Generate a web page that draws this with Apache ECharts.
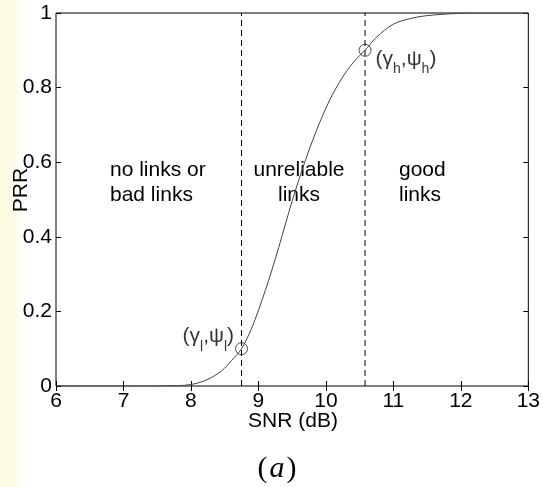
<!DOCTYPE html>
<html>
<head>
<meta charset="utf-8">
<script src="https://cdn.jsdelivr.net/npm/echarts@6/dist/echarts.min.js"></script>
<style>
  html, body { margin: 0; padding: 0; background: #fff; }
  #chart { width: 543px; height: 487px; }
</style>
</head>
<body>
<div id="chart"></div>
<script>
// PRR vs. SNR transition curve
const snr = [6, 7, 7.5, 7.8, 8, 8.2, 8.4, 8.5, 8.6, 8.75, 8.9, 9, 9.1, 9.2, 9.3, 9.4, 9.5, 9.6, 9.7, 9.8,
             9.9, 10, 10.1, 10.2, 10.3, 10.4, 10.5, 10.58, 10.75, 11, 11.25, 11.5, 12, 12.5, 13];
const prr = [0, 0, 0, 0.001, 0.004, 0.014, 0.033, 0.048, 0.068, 0.10, 0.155, 0.203, 0.255, 0.311, 0.371, 0.434, 0.496, 0.553, 0.607, 0.657,
             0.703, 0.745, 0.782, 0.814, 0.842, 0.866, 0.886, 0.90, 0.935, 0.97, 0.985, 0.993, 0.999, 1, 1];

// thresholds (gamma, psi)
const lowPoint = [8.75, 0.1];
const highPoint = [10.58, 0.9];

// axis ticks
const xTicks = [6, 7, 8, 9, 10, 11, 12, 13];
const yTicks = [0, 0.2, 0.4, 0.6, 0.8, 1];

// region captions
const regionLeft = ['no links or', 'bad links'];
const regionMid = ['unreliable', 'links'];
const regionRight = ['good', 'links'];

const FONT = '"Liberation Sans", Arial, Helvetica, sans-serif';
const FS = 21;
const tickStep = (a) => a[1] - a[0];

const chart = echarts.init(document.getElementById('chart'), null, { renderer: 'canvas' });

const subRich = {
  b: { fontSize: FS, fontFamily: FONT, color: '#000', verticalAlign: 'top', lineHeight: 22 },
  s: { fontSize: 14, fontFamily: FONT, color: '#000', verticalAlign: 'top', lineHeight: 14, padding: [14, 0, 0, 0] }
};

const axisCommonX = {
  type: 'value',
  min: xTicks[0],
  max: xTicks[xTicks.length - 1],
  interval: tickStep(xTicks),
  axisLine: { show: false },
  splitLine: { show: false },
  axisTick: { inside: true, length: 5, lineStyle: { color: '#000', width: 1 } }
};
const axisCommonY = {
  type: 'value',
  min: yTicks[0],
  max: yTicks[yTicks.length - 1],
  interval: tickStep(yTicks),
  axisLine: { show: false },
  splitLine: { show: false },
  axisTick: { inside: true, length: 5, lineStyle: { color: '#000', width: 1 } }
};

const option = {
  animation: false,
  backgroundColor: '#fff',
  grid: {
    left: 56, right: 12, top: 13, bottom: 101,
    show: true, borderColor: '#000', borderWidth: 1, backgroundColor: 'transparent'
  },
  xAxis: [
    Object.assign({}, axisCommonX, {
      position: 'bottom',
      axisLabel: { margin: 5, fontSize: FS, fontFamily: FONT, color: '#000', formatter: (v) => String(v) }
    }),
    Object.assign({}, axisCommonX, { position: 'top', axisLabel: { show: false } })
  ],
  yAxis: [
    Object.assign({}, axisCommonY, {
      position: 'left',
      axisLabel: { margin: 4, fontSize: FS, fontFamily: FONT, color: '#000', formatter: (v) => String(+v.toFixed(1)) }
    }),
    Object.assign({}, axisCommonY, { position: 'right', axisLabel: { show: false } })
  ],
  series: [
    {
      type: 'line',
      data: [[lowPoint[0], yTicks[0]], [lowPoint[0], yTicks[yTicks.length - 1]]],
      symbol: 'none',
      lineStyle: { color: '#000', width: 1, type: [6, 4] },
      silent: true
    },
    {
      type: 'line',
      data: [[highPoint[0], yTicks[0]], [highPoint[0], yTicks[yTicks.length - 1]]],
      symbol: 'none',
      lineStyle: { color: '#000', width: 1, type: [6, 4] },
      silent: true
    },
    {
      type: 'line',
      data: snr.map((x, i) => [x, prr[i]]),
      symbol: 'none',
      smooth: 0.35,
      lineStyle: { color: '#444', width: 1 },
      silent: true
    },
    {
      type: 'scatter',
      symbol: 'circle',
      symbolSize: 12,
      itemStyle: { color: 'rgba(0,0,0,0)', borderColor: '#222', borderWidth: 1 },
      silent: true,
      data: [
        {
          value: lowPoint,
          label: {
            show: true, position: 'left', distance: 1, offset: [0, -12],
            formatter: '{b|(γ}{s|l}{b|,ψ}{s|l}{b|)}', rich: subRich
          }
        },
        {
          value: highPoint,
          label: {
            show: true, position: 'right', distance: 4, offset: [0, 9],
            formatter: '{b|(γ}{s|h}{b|,ψ}{s|h}{b|)}', rich: subRich
          }
        }
      ]
    }
  ],
  graphic: [
    {
      type: 'rect', left: 0, top: 0, z: -10,
      shape: { width: 20, height: 487 },
      style: {
        fill: new echarts.graphic.LinearGradient(0, 0, 1, 0, [
          { offset: 0, color: '#fcf9df' }, { offset: 0.8, color: '#fdfbe9' }, { offset: 1, color: '#ffffff' }
        ])
      },
      silent: true
    },
    {
      type: 'text', left: 110, top: 158, silent: true,
      style: { text: regionLeft.join('\n'), font: FS + 'px ' + FONT, fill: '#000', lineHeight: 25 }
    },
    {
      type: 'text', x: 299, y: 158, silent: true,
      style: { text: regionMid.join('\n'), font: FS + 'px ' + FONT, fill: '#000', lineHeight: 25, align: 'center' }
    },
    {
      type: 'text', left: 399, top: 158, silent: true,
      style: { text: regionRight.join('\n'), font: FS + 'px ' + FONT, fill: '#000', lineHeight: 25 }
    },
    {
      type: 'text', x: 21, y: 190, rotation: Math.PI / 2, silent: true,
      style: { text: 'PRR', font: FS + 'px ' + FONT, fill: '#000', align: 'center', verticalAlign: 'middle' }
    },
    {
      type: 'text', x: 293, y: 421, silent: true,
      style: { text: 'SNR (dB)', font: FS + 'px ' + FONT, fill: '#000', align: 'center', verticalAlign: 'middle' }
    },
    {
      type: 'text', x: 277, y: 469, silent: true,
      style: {
        text: '{p|(}{i|a}{p|)}', align: 'center', verticalAlign: 'middle',
        rich: {
          p: { fontSize: 30, fontFamily: '"Liberation Serif", "DejaVu Serif", serif', fill: '#000' },
          i: { fontSize: 30, fontFamily: '"Liberation Serif", "DejaVu Serif", serif', fontStyle: 'italic', fill: '#000', padding: [0, 2, 0, 2] }
        }
      }
    }
  ]
};

chart.setOption(option);
</script>
</body>
</html>
